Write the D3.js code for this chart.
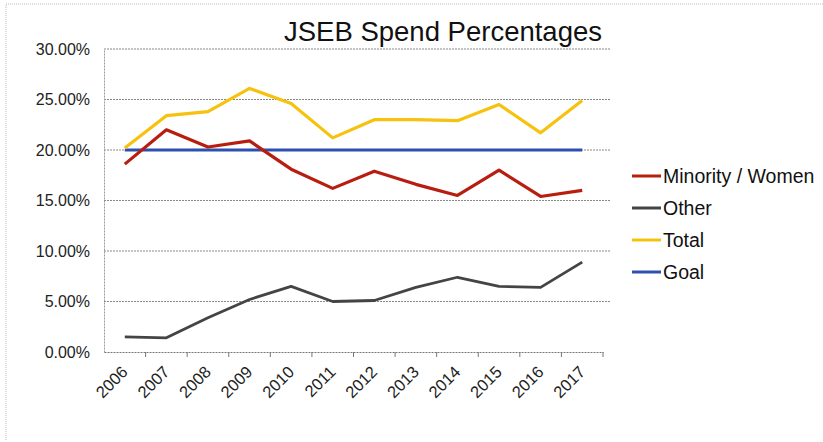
<!DOCTYPE html>
<html><head><meta charset="utf-8">
<script src="https://cdn.jsdelivr.net/npm/d3@7"></script>
<style>body{margin:0;background:#fff;} svg{display:block;font-family:"Liberation Sans",Arial,sans-serif;}</style>
</head><body>
<svg id="c" width="823" height="442"></svg>
<script>
const years = ["2006","2007","2008","2009","2010","2011","2012","2013","2014","2015","2016","2017"];
const minorityWomen = [18.6,22.0,20.3,20.9,18.1,16.2,17.9,16.6,15.5,18.0,15.4,16.0];
const other = [1.5,1.4,3.4,5.2,6.5,5.0,5.1,6.4,7.4,6.5,6.4,8.9];
const total = [20.2,23.4,23.8,26.1,24.6,21.2,23.0,23.0,22.9,24.5,21.7,24.9];
const goal = [20,20,20,20,20,20,20,20,20,20,20,20];
const yTicks = [0,5,10,15,20,25,30];
const seriesNames = ["Minority / Women","Other","Total","Goal"];
const seriesColors = ["#b81e10","#444444","#f7c20e","#2d4fb0"];
const seriesData = [minorityWomen, other, total, goal];

const svg = d3.select("#c");
const m = {l:104, r:603, t:49, b:352};
const x = d3.scaleBand().domain(years).range([m.l, m.r]);
const y = d3.scaleLinear().domain([0,30]).range([m.b, m.t]);

// outer dotted frame
svg.append("path").attr("d","M6,440 L6,4 L823,4").attr("fill","none")
  .attr("stroke","#bbb").attr("stroke-width",1).attr("stroke-dasharray","1,1");

// gridlines
svg.append("g").selectAll("line").data(yTicks.filter(d=>d>0)).join("line")
  .attr("x1",m.l).attr("x2",m.r+8).attr("y1",d=>y(d)).attr("y2",d=>y(d))
  .attr("stroke","#888").attr("stroke-width",1).attr("stroke-dasharray","2,1");

// y axis
const ya = svg.append("g").attr("transform",`translate(${m.l},0)`)
  .call(d3.axisLeft(y).tickValues(yTicks).tickFormat(d=>d.toFixed(2)+"%").tickSize(0).tickPadding(14));
ya.select(".domain").attr("stroke","#999").attr("stroke-dasharray","2,1");
ya.selectAll("text").attr("font-size",16).attr("fill","#222").attr("font-family","Liberation Sans, Arial, sans-serif");

// x axis
const xa = svg.append("g").attr("transform",`translate(0,${m.b})`)
  .call(d3.axisBottom(x).tickSize(5).tickSizeOuter(0));
xa.select(".domain").attr("stroke","#777").attr("stroke-dasharray","2,1");
xa.selectAll(".tick line").attr("transform",`translate(${x.step()/2},0)`).attr("stroke","#777");
xa.selectAll("text").attr("font-size",16.5).attr("fill","#222")
  .attr("font-family","Liberation Sans, Arial, sans-serif")
  .attr("text-anchor","end").attr("x",0).attr("y",0).attr("dy",0)
  .attr("transform","translate(4,21) rotate(-45)");

// lines
const line = d3.line().x((d,i)=>x(years[i])+x.bandwidth()/2).y(d=>y(d));
[3,1,0,2].forEach(k=>{
  svg.append("path").datum(seriesData[k]).attr("d",line).attr("fill","none")
    .attr("stroke",seriesColors[k]).attr("stroke-width",k===1?2.8:3.2).attr("stroke-linejoin","round");
});

// title
svg.append("text").attr("x",602).attr("y",41).attr("text-anchor","end")
  .attr("font-size",27.5).attr("fill","#111").text("JSEB Spend Percentages");

// legend
const lg = svg.append("g");
seriesNames.forEach((n,i)=>{
  const yy = 176 + i*32;
  lg.append("line").attr("x1",632).attr("x2",661).attr("y1",yy).attr("y2",yy)
    .attr("stroke",seriesColors[i]).attr("stroke-width",3);
  lg.append("text").attr("x",663).attr("y",yy).attr("dy","0.36em")
    .attr("font-size",19.5).attr("fill","#111").text(n);
});
</script>
</body></html>
